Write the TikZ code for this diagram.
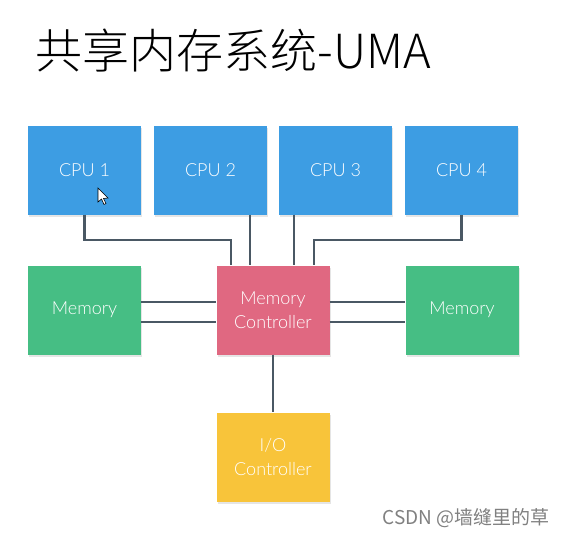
\documentclass[tikz,border=0pt]{standalone}
\usepackage{fontspec}
\setmainfont{Lato Light}
\newfontfamily\cjk{Noto Sans CJK SC}
\newfontfamily\cjklight{Noto Sans CJK SC Light}
\usetikzlibrary{shadows}
\definecolor{cpublue}{HTML}{3D9DE3}
\definecolor{memgreen}{HTML}{46BE84}
\definecolor{ctrlred}{HTML}{E06881}
\definecolor{ioyellow}{HTML}{F8C43A}
\definecolor{wire}{HTML}{4A5864}
\tikzset{
  unit/.style={minimum width=113pt,minimum height=89pt,inner sep=2pt,text=white,
    align=center,font=\fontsize{18}{24}\selectfont,
    drop shadow={opacity=0.2,shadow xshift=1pt,shadow yshift=-2pt}},
  bus/.style={wire,line width=2.5pt}
}
\begin{document}
\begin{tikzpicture}[x=1pt,y=-1pt]
\useasboundingbox[fill=white] (0,0) rectangle (568,536);
\node[anchor=west,font=\cjklight\fontsize{47}{50}\selectfont] (title) at (32,51) {共享内存系统-UMA};
\node[unit,fill=cpublue] (cpu1) at (84.5,170) {CPU 1};
\node[unit,fill=cpublue] (cpu2) at (210.5,170) {CPU 2};
\node[unit,fill=cpublue] (cpu3) at (335.5,170) {CPU 3};
\node[unit,fill=cpublue] (cpu4) at (461.5,170) {CPU 4};
\node[unit,fill=memgreen] (meml) at (84.5,310) {Memory};
\node[unit,fill=ctrlred] (mc) at (273,310) {Memory\\Controller};
\node[unit,fill=memgreen] (memr) at (462,310) {Memory};
\node[unit,fill=ioyellow] (io) at (273,457) {I/O\\Controller};
\draw[bus] (cpu1.south) |- (231,240) -- ([xshift=-42pt]mc.north);
\draw[bus] ([xshift=-23pt]mc.north |- cpu2.south) -- ([xshift=-23pt]mc.north);
\draw[bus] ([xshift=21pt]mc.north |- cpu3.south) -- ([xshift=21pt]mc.north);
\draw[bus] (cpu4.south) |- (314,240) -- ([xshift=41pt]mc.north);
\draw[bus] ([yshift=8pt]meml.east) -- ([yshift=8pt]meml.east -| mc.west);
\draw[bus] ([yshift=-12pt]meml.east) -- ([yshift=-12pt]meml.east -| mc.west);
\draw[bus] ([yshift=8pt]mc.east) -- ([yshift=8pt]mc.east -| memr.west);
\draw[bus] ([yshift=-12pt]mc.east) -- ([yshift=-12pt]mc.east -| memr.west);
\draw[bus] (mc.south) -- (io.north);
\draw[fill=white,draw=black,line width=0.6pt] (98,188) -- (98,202) -- (101.5,199) -- (104,204.5) -- (106,203.5) -- (103.5,198.5) -- (108,198) -- cycle;
\node[anchor=east,text=gray,font=\cjk\fontsize{19}{22}\selectfont] (mark) at (553,518) {CSDN @墙缝里的草};
\end{tikzpicture}
\end{document}
